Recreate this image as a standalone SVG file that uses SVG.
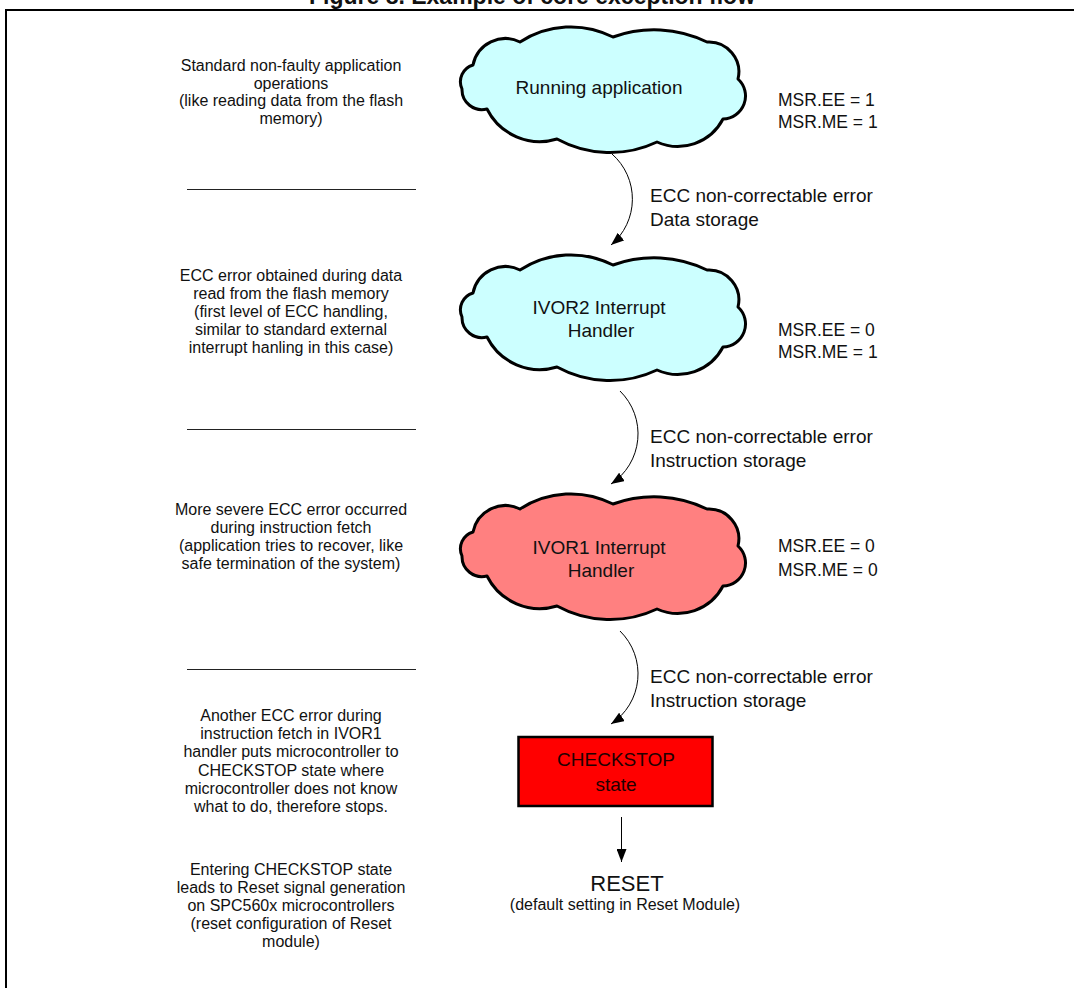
<svg xmlns="http://www.w3.org/2000/svg" width="1074" height="988" viewBox="0 0 1074 988">
<style>
text{font-family:"Liberation Sans",Arial,sans-serif;fill:#111}
.title{font-size:23px;font-weight:bold;text-anchor:middle}
.side{font-size:16px;text-anchor:middle}
.node{font-size:19px;text-anchor:middle}
.lbl{font-size:19px}
.msr{font-size:17.5px}
.small{font-size:16px;text-anchor:middle}
.cloud-a{fill:#CCFFFF;stroke:#000;stroke-width:3;stroke-linejoin:round}
.cloud-b{fill:#FF8080;stroke:#000;stroke-width:3;stroke-linejoin:round}
.sep{stroke:#222;stroke-width:1}
.conn{fill:none;stroke:#000;stroke-width:1}
</style>
<defs>
<path id="cloud" d="M -142 1 A 17.5 17.5 0 0 1 -131 -23 A 33 33 0 0 1 -84 -46 A 93 93 0 0 1 9 -51 A 121 121 0 0 1 103 -46 A 30 30 0 0 1 134 -9 A 23 23 0 0 1 119 31 A 51 51 0 0 1 53 54 A 110 110 0 0 1 -47 51 A 59 59 0 0 1 -117 21 A 20 20 0 0 1 -142 1 Z"/>
<marker id="ah" markerUnits="userSpaceOnUse" markerWidth="14" markerHeight="10" refX="13" refY="5" orient="auto" viewBox="0 0 14 10">
<path d="M0,0 L13,5 L0,10 z" fill="#000"/>
</marker>
</defs>
<rect width="1074" height="988" fill="#fff"/>
<text class="title" x="532" y="4">Figure 8. Example of core exception flow</text>
<path d="M 1080 10 H 6 V 992" fill="none" stroke="#000" stroke-width="2"/>

<g id="separators">
<line class="sep" x1="187" y1="189.5" x2="416" y2="189.5"/>
<line class="sep" x1="187" y1="429.5" x2="416" y2="429.5"/>
<line class="sep" x1="187" y1="669.5" x2="416" y2="669.5"/>
</g>

<g id="desc1">
<text class="side" x="291" y="71">Standard non-faulty application</text>
<text class="side" x="291" y="88.6">operations</text>
<text class="side" x="291" y="106.2">(like reading data from the flash</text>
<text class="side" x="291" y="123.8">memory)</text>
</g>
<g id="desc2">
<text class="side" x="291" y="280.5">ECC error obtained during data</text>
<text class="side" x="291" y="298.5">read from the flash memory</text>
<text class="side" x="291" y="316.5">(first level of ECC handling,</text>
<text class="side" x="291" y="334.5">similar to standard external</text>
<text class="side" x="291" y="352.5">interrupt hanling in this case)</text>
</g>
<g id="desc3">
<text class="side" x="291" y="515">More severe ECC error occurred</text>
<text class="side" x="291" y="533">during instruction fetch</text>
<text class="side" x="291" y="551">(application tries to recover, like</text>
<text class="side" x="291" y="569">safe termination of the system)</text>
</g>
<g id="desc4">
<text class="side" x="291" y="721">Another ECC error during</text>
<text class="side" x="291" y="739.2">instruction fetch in IVOR1</text>
<text class="side" x="291" y="757.4">handler puts microcontroller to</text>
<text class="side" x="291" y="775.6">CHECKSTOP state where</text>
<text class="side" x="291" y="793.8">microcontroller does not know</text>
<text class="side" x="291" y="812">what to do, therefore stops.</text>
</g>
<g id="desc5">
<text class="side" x="291" y="874.5">Entering CHECKSTOP state</text>
<text class="side" x="291" y="892.6">leads to Reset signal generation</text>
<text class="side" x="291" y="910.7">on SPC560x microcontrollers</text>
<text class="side" x="291" y="928.8">(reset configuration of Reset</text>
<text class="side" x="291" y="946.9">module)</text>
</g>

<g id="running-application">
<use href="#cloud" class="cloud-a" transform="translate(604,88)"/>
<text class="node" x="599" y="93.5">Running application</text>
<text class="msr" x="778" y="106">MSR.EE = 1</text>
<text class="msr" x="778" y="128">MSR.ME = 1</text>
</g>
<g id="ivor2-handler">
<use href="#cloud" class="cloud-a" transform="translate(604,316)"/>
<text class="node" x="599" y="314">IVOR2 Interrupt</text>
<text class="node" x="601" y="337">Handler</text>
<text class="msr" x="778" y="336">MSR.EE = 0</text>
<text class="msr" x="778" y="358">MSR.ME = 1</text>
</g>
<g id="ivor1-handler">
<use href="#cloud" class="cloud-b" transform="translate(604,555)"/>
<text class="node" x="599" y="553.5">IVOR1 Interrupt</text>
<text class="node" x="601" y="576.5">Handler</text>
<text class="msr" x="778" y="552">MSR.EE = 0</text>
<text class="msr" x="778" y="576">MSR.ME = 0</text>
</g>
<g id="checkstop">
<rect x="518.5" y="737" width="194" height="69" fill="#FF0000" stroke="#000" stroke-width="2.5"/>
<text class="node" x="616" y="766" style="fill:#200">CHECKSTOP</text>
<text class="node" x="616" y="790.5" style="fill:#200">state</text>
</g>
<g id="reset">
<text x="627" y="891" style="font-size:22px;text-anchor:middle">RESET</text>
<text class="small" x="625" y="910">(default setting in Reset Module)</text>
</g>

<g id="connectors">
<path class="conn" d="M 612 154 A 60 60 0 0 1 611 245" marker-end="url(#ah)"/>
<path class="conn" d="M 620 391 A 60 60 0 0 1 611 484" marker-end="url(#ah)"/>
<path class="conn" d="M 620 631 A 60 60 0 0 1 611 724" marker-end="url(#ah)"/>
<path class="conn" d="M 621.5 817 V 862" marker-end="url(#ah)"/>
<text class="lbl" x="650" y="202">ECC non-correctable error</text>
<text class="lbl" x="650" y="226">Data storage</text>
<text class="lbl" x="650" y="442.5">ECC non-correctable error</text>
<text class="lbl" x="650" y="466.5">Instruction storage</text>
<text class="lbl" x="650" y="682.5">ECC non-correctable error</text>
<text class="lbl" x="650" y="706.5">Instruction storage</text>
</g>
</svg>
